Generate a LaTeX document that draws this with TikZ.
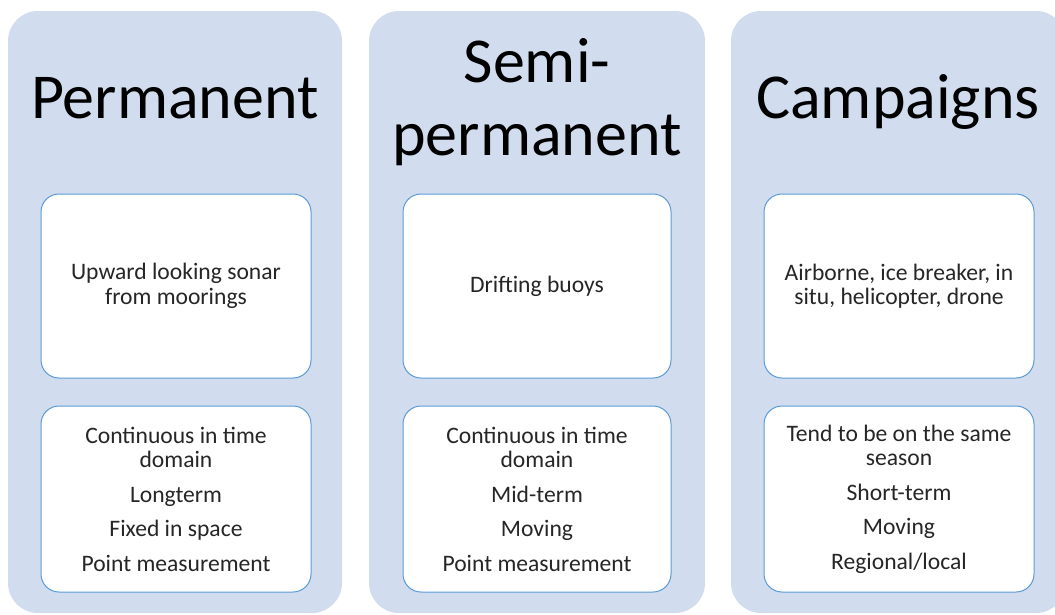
\documentclass[tikz,border=0pt]{standalone}
\usepackage{fontspec}
\setmainfont{Carlito}
\definecolor{colfill}{HTML}{D1DCEE}
\definecolor{boxline}{HTML}{5B9BD5}

\begin{document}
\begin{tikzpicture}[x=1pt, y=1pt,
	column/.style={fill=colfill, rounded corners=30pt},
	title/.style={font=\fontsize{64}{73}\selectfont, align=center, anchor=base},
	infobox/.style={draw=boxline, line width=1pt, fill=white, rounded corners=18pt,
		align=center, text=black!85, font=\fontsize{23.6}{24.5}\selectfont}
]
% frame of the picture
	\useasboundingbox (0,0) rectangle (1055,-614);
	\clip (0,0) rectangle (1055,-614);
% draw the three columns
	\fill[column] (8,-11) rectangle (342,-613);
	\fill[column] (369,-11) rectangle (705,-613);
	\fill[column] (731,-11) rectangle (1066,-613);
% titles
	\node[title] (perm) at (175,-118) {Permanent};
	\node[title] (semi) at (537,-155) {Semi-\\permanent};
	\node[title] (camp) at (898,-118) {Campaigns};
% upper boxes
	\node[infobox, minimum width=270pt, minimum height=184pt] (permtop) at (176,-286) {Upward looking sonar\\from moorings};
	\node[infobox, minimum width=268pt, minimum height=184pt] (semitop) at (537,-286) {Drifting buoys};
	\node[infobox, minimum width=270pt, minimum height=184pt] (camptop) at (899,-286) {Airborne, ice breaker, in\\situ, helicopter, drone};
% lower boxes
	\node[infobox, minimum width=270pt, minimum height=186pt] (permlow) at (176,-499) {Continuous in time\\domain\\[10pt]Longterm\\[10pt]Fixed in space\\[10pt]Point measurement};
	\node[infobox, minimum width=268pt, minimum height=186pt] (semilow) at (537,-499) {Continuous in time\\domain\\[10pt]Mid-term\\[10pt]Moving\\[10pt]Point measurement};
	\node[infobox, minimum width=270pt, minimum height=186pt] (camplow) at (899,-499) {Tend to be on the same\\season\\[10pt]Short-term\\[10pt]Moving\\[10pt]Regional/local};
\end{tikzpicture}
\end{document}
